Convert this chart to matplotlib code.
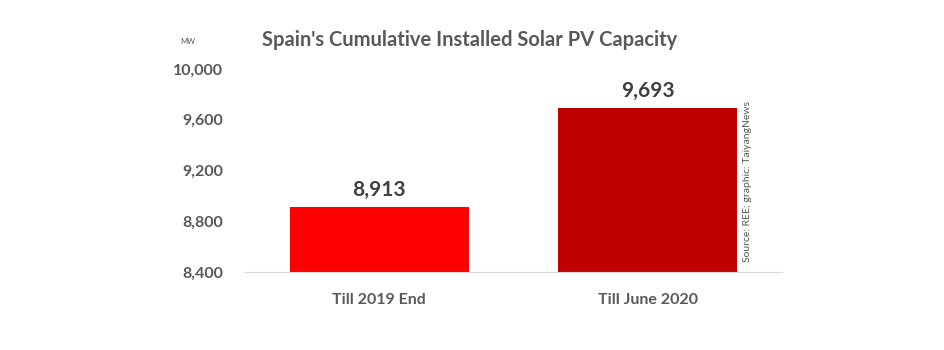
import matplotlib
matplotlib.use("Agg")
import matplotlib.pyplot as plt
from matplotlib.ticker import FuncFormatter

categories = ["Till 2019 End", "Till June 2020"]
values = [8913, 9693]
colors = ["#FF0000", "#C00000"]
yticks = [8400, 8800, 9200, 9600, 10000]

plt.rcParams['font.family'] = ['Lato', 'DejaVu Sans']
plt.rcParams['font.weight'] = 'bold'

fig = plt.figure(figsize=(9.44, 3.5), dpi=100)
ax = fig.add_axes([245/944, 1-272/350, (782-245)/944, (272-69)/350])
x = range(len(categories))
ax.bar(x, values, width=0.665, color=colors)
ax.set_xlim(-0.5, 1.5)
ax.set_ylim(8400, 10000)
ax.set_yticks(yticks)
ax.yaxis.set_major_formatter(FuncFormatter(lambda v, p: f"{int(v):,}"))
ax.set_xticks(list(x))
ax.set_xticklabels(categories)
for s in ["top", "right", "left"]:
    ax.spines[s].set_visible(False)
ax.spines["bottom"].set_color("#D9D9D9")
ax.tick_params(axis="both", length=0, labelsize=11.5, labelcolor="#595959")
ax.tick_params(axis="y", pad=16)
ax.tick_params(axis="x", pad=15)
for i, v in enumerate(values):
    ax.text(i, v + 55, f"{v:,}", ha="center", va="bottom", fontsize=15,
            fontweight="bold", color="#404040")
fig.text(470/944, 1-40/350, "Spain's Cumulative Installed Solar PV Capacity",
         ha="center", va="center", fontsize=14.5, fontweight="bold", color="#595959")
fig.text(188/944, 1-41/350, "MW", ha="center", va="center", fontsize=5.5,
         fontweight="normal", color="#595959")
fig.text(748/944, 1-182/350, "Source: REE; graphic: TaiyangNews", rotation=90,
         ha="center", va="center", fontsize=7.5, fontweight="normal", color="#595959")
fig.savefig("out.png", dpi=100)
